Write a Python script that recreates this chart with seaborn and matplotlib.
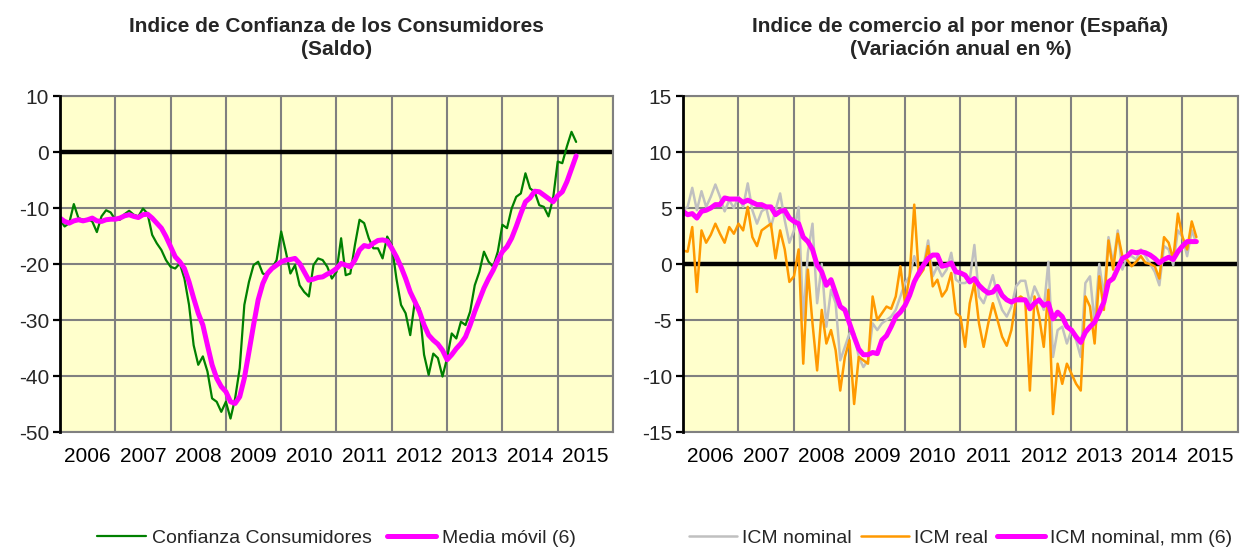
import numpy as np
import pandas as pd
import matplotlib
matplotlib.use("Agg")
import matplotlib.pyplot as plt
import seaborn as sns

# ---------------- DATA ----------------
years = list(range(2006, 2016))

# Indice de Confianza de los Consumidores (monthly, Jan 2006 - May 2015)
confianza = [
    -12.1, -13.3, -12.7, -9.3, -11.8, -12.1, -12.0, -12.4, -14.3, -11.5, -10.4, -10.8,
    -12.1, -12.1, -11.1, -10.5, -11.2, -11.5, -10.1, -11.0, -14.8, -16.3, -17.5, -19.3,
    -20.5, -20.8, -19.9, -22.6, -27.3, -34.5, -38.0, -36.5, -39.2, -44.0, -44.6, -46.4,
    -44.6, -47.6, -44.0, -38.6, -27.3, -23.2, -20.2, -19.6, -21.7, -22.0, -20.8, -19.3,
    -14.2, -17.8, -21.7, -20.2, -23.8, -25.0, -25.8, -20.2, -19.0, -19.3, -20.5, -22.6,
    -21.4, -15.4, -22.0, -21.7, -16.6, -12.1, -12.7, -15.4, -17.2, -17.2, -19.0, -15.1,
    -16.6, -22.6, -27.3, -28.8, -32.7, -26.7, -27.9, -36.2, -39.8, -36.0, -36.8, -40.1,
    -36.8, -32.4, -33.3, -30.3, -30.9, -28.5, -23.8, -21.4, -17.8, -19.6, -20.5, -17.8,
    -13.0, -13.6, -10.1, -8.0, -7.4, -3.8, -6.5, -7.1, -9.5, -9.8, -11.5, -8.3,
    -1.7, -2.0, 1.0, 3.6, 1.8,
]
media_movil = [
    -11.8, -12.4, -12.7, -12.3, -12.1, -12.3, -12.1, -11.8, -12.3, -12.4, -12.1, -12.0,
    -12.0, -11.8, -11.4, -11.2, -11.5, -11.7, -11.2, -11.1, -11.8, -12.7, -13.6, -15.1,
    -16.9, -18.7, -19.6, -20.8, -23.2, -26.1, -28.8, -30.9, -34.5, -38.0, -40.4, -41.9,
    -42.8, -44.6, -44.9, -43.7, -40.4, -35.7, -30.9, -26.4, -23.5, -21.7, -20.8, -20.2,
    -19.6, -19.3, -19.2, -19.0, -19.9, -21.4, -22.9, -22.7, -22.4, -22.3, -21.8, -21.4,
    -20.8, -19.9, -20.2, -20.5, -19.3, -17.5, -16.7, -16.9, -16.3, -15.8, -15.7, -15.9,
    -17.2, -18.7, -20.5, -22.6, -25.0, -26.7, -28.5, -30.9, -32.7, -33.6, -34.3, -35.4,
    -37.1, -36.2, -35.1, -34.2, -33.0, -30.9, -28.5, -26.4, -24.3, -22.6, -21.1, -19.3,
    -17.8, -16.9, -15.4, -13.3, -11.0, -8.9, -8.2, -7.0, -7.1, -7.7, -8.3, -8.9,
    -7.8, -7.1, -5.3, -3.0, -0.7,
]

# Indice de comercio al por menor (monthly, Jan 2006 - Apr 2015)
icm_nominal = [
    4.8, 5.1, 6.8, 4.8, 6.5, 5.1, 6.0, 7.1, 6.0, 4.7, 5.7, 5.0,
    6.0, 5.1, 7.2, 4.8, 3.6, 4.7, 5.0, 3.3, 4.8, 6.3, 3.9, 1.9,
    3.0, 5.1, -5.0, 1.0, 3.6, -3.5, 0.0, -5.6, -2.3, -3.5, -8.6, -7.4,
    -6.2, -6.2, -8.3, -9.2, -8.6, -5.3, -5.9, -5.3, -5.0, -4.7, -4.1, -2.9,
    -1.7, -1.1, 0.7, -0.5, -0.2, 2.1, -1.1, -0.2, -1.1, -0.5, 1.0, -1.4,
    -1.7, -1.7, -1.4, 1.7, -2.9, -3.5, -2.3, -1.0, -2.9, -4.1, -4.7, -3.8,
    -2.0, -1.5, -1.5, -3.5, -2.0, -2.9, -4.1, 0.2, -8.3, -5.9, -5.6, -7.1,
    -5.9, -6.8, -8.3, -1.7, -1.1, -5.3, 0.0, -2.9, 2.4, 0.0, 3.0, -0.5,
    0.7, 0.7, 0.4, 1.3, 0.7, 0.0, -0.7, -1.9, 1.6, 1.3, -0.1, 3.0,
    2.4, 0.7, 3.0, 1.9,
]
icm_real = [
    1.2, 1.1, 3.3, -2.5, 3.0, 1.9, 2.6, 3.6, 2.7, 1.9, 3.3, 2.7,
    3.6, 3.0, 5.1, 2.4, 1.6, 3.0, 3.3, 3.6, 0.5, 3.0, 1.3, -1.6,
    -1.1, 1.3, -8.9, -0.5, -5.3, -9.5, -4.1, -7.1, -5.9, -7.7, -11.3, -8.3,
    -6.8, -12.5, -8.3, -8.6, -8.9, -2.9, -5.0, -4.4, -3.8, -4.0, -2.9, -0.2,
    -3.5, -1.1, 5.3, -1.1, -0.5, 1.6, -2.0, -1.4, -2.9, -2.3, -0.8, -4.4,
    -4.7, -7.4, -3.5, -1.7, -5.3, -7.4, -5.3, -3.5, -5.0, -6.5, -7.3, -5.9,
    -3.2, -2.9, -3.2, -11.3, -2.9, -4.7, -7.4, -2.3, -13.4, -8.9, -10.7, -8.9,
    -9.8, -10.7, -11.3, -2.9, -3.8, -7.1, -1.1, -4.1, 2.1, -0.5, 2.7, 0.7,
    0.4, -0.2, 0.2, 0.7, 0.1, 0.0, -0.2, -1.3, 2.4, 1.9, 0.4, 4.5,
    2.4, 1.3, 3.8, 2.4,
]
icm_mm6 = [
    4.7, 4.4, 4.5, 4.1, 4.7, 4.8, 5.0, 5.3, 5.3, 5.9, 5.8, 5.8,
    5.8, 5.5, 5.7, 5.5, 5.3, 5.3, 5.1, 5.1, 4.4, 4.7, 4.8, 4.1,
    3.8, 3.6, 2.4, 2.0, 1.3, -0.1, -0.7, -1.9, -1.4, -2.6, -3.8, -4.1,
    -5.3, -6.5, -7.6, -8.1, -8.1, -7.9, -8.0, -6.8, -6.4, -5.6, -4.7, -4.3,
    -3.7, -2.8, -1.6, -0.8, -0.1, 0.5, 0.8, 0.8, -0.2, -0.1, 0.1, -0.7,
    -0.8, -1.0, -1.6, -1.3, -1.9, -2.3, -2.6, -2.5, -2.0, -2.8, -3.2, -3.4,
    -3.2, -3.2, -3.2, -4.0, -3.5, -3.2, -3.7, -3.5, -4.9, -4.3, -4.7, -5.6,
    -5.9, -6.5, -7.0, -6.1, -5.6, -5.2, -4.3, -3.4, -1.6, -1.3, -0.4, 0.5,
    0.7, 1.1, 1.0, 1.1, 1.0, 0.8, 0.5, 0.1, 0.4, 0.6, 0.4, 1.1,
    1.6, 2.0, 2.0, 2.0,
]

title_left = "Indice de Confianza de los Consumidores\n(Saldo)"
title_right = "Indice de comercio al por menor (España)\n(Variación anual en %)"

# ---------------- STYLE ----------------
sns.set_theme(style="white")
plt.rcParams["font.family"] = ["Liberation Sans", "DejaVu Sans"]
plt.rcParams["axes.unicode_minus"] = False

BG = "#FFFFCC"
GRID = "#808080"


def fractional_years(n):
    d = pd.date_range("2006-01-01", periods=n, freq="MS")
    return d.year + (d.month - 1) / 12.0


fig = plt.figure(figsize=(12.4, 5.51), dpi=100)
ax1 = fig.add_axes([60 / 1240, 119 / 551, 553 / 1240, 336 / 551])
ax2 = fig.add_axes([683 / 1240, 119 / 551, 555 / 1240, 336 / 551])

# Left chart
x1 = fractional_years(len(confianza))
df1 = pd.DataFrame({"x": x1, "conf": confianza, "mm": media_movil})
sns.lineplot(data=df1, x="x", y="conf", ax=ax1, color="#008000", lw=1.6,
             label="Confianza Consumidores", zorder=3)
sns.lineplot(data=df1, x="x", y="mm", ax=ax1, color="#FF00FF", lw=3.6,
             label="Media móvil (6)", zorder=4)

# Right chart
x2 = fractional_years(len(icm_nominal))
df2 = pd.DataFrame({"x": x2, "nom": icm_nominal, "real": icm_real, "mm": icm_mm6})
sns.lineplot(data=df2, x="x", y="nom", ax=ax2, color="#C0C0C0", lw=1.8,
             label="ICM nominal", zorder=3)
sns.lineplot(data=df2, x="x", y="real", ax=ax2, color="#FF9900", lw=1.8,
             label="ICM real", zorder=3.5)
sns.lineplot(data=df2, x="x", y="mm", ax=ax2, color="#FF00FF", lw=3.6,
             label="ICM nominal, mm (6)", zorder=4)


def style_axes(ax, ylim, ystep, title, leg_kw):
    ax.set_facecolor(BG)
    ax.set_xlim(2006, 2016)
    ax.set_ylim(*ylim)
    ticks = np.arange(ylim[0], ylim[1] + ystep, ystep)
    ax.set_yticks(ticks)
    ax.set_yticklabels([f"{int(v)}" for v in ticks])
    ax.set_xticks(list(range(2006, 2017)))
    ax.set_xticklabels([])
    ax.set_xticks([y + 0.5 for y in years], minor=True)
    ax.set_xticklabels([str(y) for y in years], minor=True)
    ax.tick_params(axis="x", which="both", length=0)
    ax.tick_params(axis="x", which="minor", pad=11, labelsize=15, colors="black")
    ax.tick_params(axis="y", which="major", direction="out", length=5, width=1.6,
                   color="black", pad=3, labelsize=15, left=True)
    ax.grid(True, which="major", color=GRID, lw=1.5)
    ax.set_axisbelow(True)
    for s in ["top", "right", "bottom"]:
        ax.spines[s].set_color(GRID)
        ax.spines[s].set_linewidth(1.5)
        ax.spines[s].set_visible(True)
    ax.spines["left"].set_color("black")
    ax.spines["left"].set_linewidth(2)
    ax.spines["left"].set_zorder(5)
    ax.axhline(0, color="black", lw=3.2, zorder=2.5)
    ax.set_xlabel("")
    ax.set_ylabel("")
    ax.text(0.5, 1.11, title, transform=ax.transAxes, ha="center", va="bottom",
            fontsize=15, fontweight="bold", linespacing=1.25)
    ax.legend(loc="center", bbox_to_anchor=(0.5, -0.315), ncol=3, frameon=False,
              fontsize=14, **leg_kw)


style_axes(ax1, (-50, 10), 10, title_left,
           dict(handlelength=2.5, handletextpad=0.3, columnspacing=0.8))
style_axes(ax2, (-15, 15), 5, title_right,
           dict(handlelength=2.5, handletextpad=0.25, columnspacing=0.45))

fig.savefig("out.png", dpi=100)
